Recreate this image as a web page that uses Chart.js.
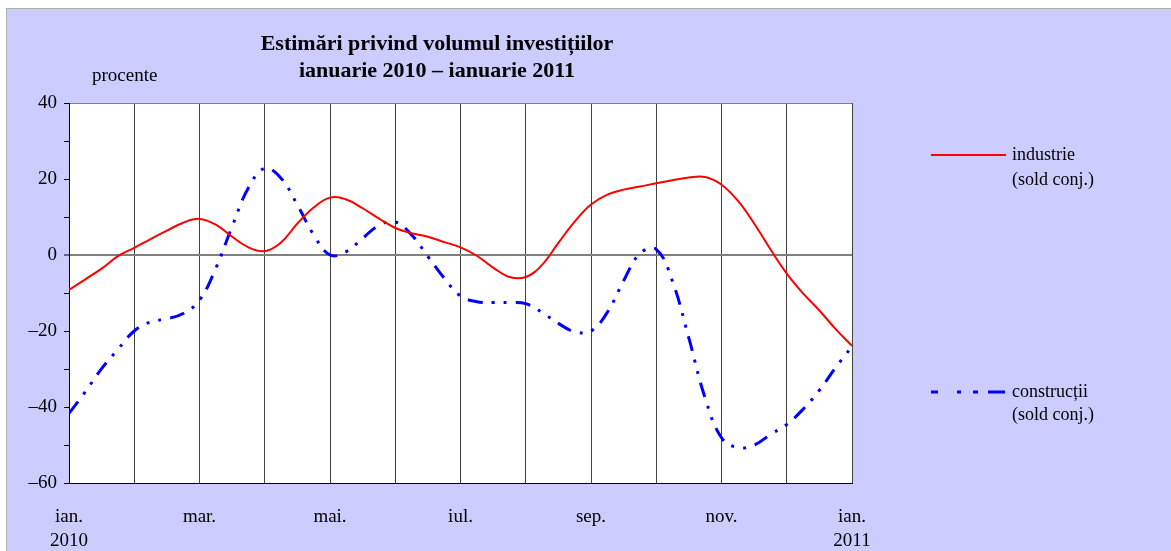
<!DOCTYPE html>
<html>
<head>
<meta charset="utf-8">
<script src="https://cdn.jsdelivr.net/npm/chart.js@4"></script>
<style>
  body { margin: 0; background: #fff; }
  #wrap { width: 1171px; height: 551px; }
</style>
</head>
<body>
<div id="wrap"><canvas id="investChart"></canvas></div>
<script>
// values, one every quarter month (ian. 2010 - ian. 2011)
const industrie = [-9.2, -6.4, -3.6, -0.3, 1.9, 4.2, 6.4, 8.5, 9.5, 8.0, 4.8, 2.0, 1.0,
  3.3, 8.3, 12.5, 15.1, 14.6, 12.3, 9.6, 7.1, 5.7, 4.8, 3.4, 2.0,
  -0.2, -3.3, -5.8, -5.8, -2.6, 3.2, 8.8, 13.3, 15.9, 17.2, 18.0, 18.9,
  19.7, 20.4, 20.5, 18.5, 14.3, 8.3, 1.5, -4.9, -10.1, -14.6, -19.5, -23.9];
const constructii = [-41.7, -36.0, -29.9, -24.8, -20.0, -17.6, -16.8, -15.4, -11.9, -3.5, 7.5, 17.7, 22.8,
  20.2, 13.2, 5.3, 0.0, 0.9, 4.4, 7.8, 8.7, 5.3, -0.4, -6.1, -10.8,
  -12.3, -12.5, -12.5, -12.8, -15.1, -18.0, -20.2, -20.0, -15.1, -6.8, 0.4, 1.5,
  -7.0, -21.9, -37.7, -48.1, -50.7, -50.0, -47.2, -44.6, -40.6, -35.6, -29.6, -24.1];
const luni = ['ian.', '', 'mar.', '', 'mai.', '', 'iul.', '', 'sep.', '', 'nov.', '', 'ian.'];
const ani = ['2010', '', '', '', '', '', '', '', '', '', '', '', '2011'];
const yTicks = [40, 20, 0, -20, -40, -60];

const serif = "'Liberation Serif', 'Times New Roman', serif";
const lavender = 'rgb(204,204,255)';

function puncte(vals) {
  return vals.map((v, i) => ({ x: i / 4, y: v }));
}

const background = {
  id: 'background',
  beforeDraw(chart) {
    const c = chart.ctx, a = chart.chartArea;
    c.save();
    c.fillStyle = '#fff';
    c.fillRect(0, 0, chart.width, chart.height);
    c.fillStyle = lavender;
    c.fillRect(7, 9, chart.width - 7, chart.height - 9);
    c.strokeStyle = '#b0b0b0';
    c.lineWidth = 1;
    c.strokeRect(6.5, 8.5, chart.width, chart.height);
    c.fillStyle = '#fff';
    c.fillRect(a.left, a.top, a.right - a.left, a.bottom - a.top);
    c.restore();
  }
};

const texts = {
  id: 'texts',
  afterDraw(chart) {
    const c = chart.ctx;
    c.save();
    c.fillStyle = '#000';
    c.textBaseline = 'middle';
    c.textAlign = 'center';
    c.font = 'bold 22px ' + serif;
    c.fillText('Estimări privind volumul investițiilor', 437, 44);
    c.fillText('ianuarie 2010 – ianuarie 2011', 437, 71);
    c.textAlign = 'left';
    c.font = '19px ' + serif;
    c.fillText('procente', 92, 76);

    // legend
    const rows = [[155, 180], [392, 415]];
    const legendDash = [[], [17, 19, 4, 12, 5, 10]];
    chart.data.datasets.forEach((ds, i) => {
      const y = rows[i][0];
      c.beginPath();
      c.strokeStyle = ds.borderColor;
      c.lineWidth = ds.borderWidth;
      c.setLineDash(legendDash[i]);
      c.lineDashOffset = i ? 10 : 0;
      c.moveTo(931, y);
      c.lineTo(1006, y);
      c.stroke();
      c.setLineDash([]);
      c.font = '18px ' + serif;
      c.fillStyle = '#000';
      c.fillText(ds.label, 1012, y);
      c.fillText('(sold conj.)', 1012, rows[i][1]);
    });
    c.restore();
  }
};

const ctx = document.getElementById('investChart').getContext('2d');
new Chart(ctx, {
  type: 'line',
  data: {
    datasets: [{
      label: 'industrie',
      data: puncte(industrie),
      borderColor: 'rgb(255,0,0)',
      borderWidth: 2,
      pointRadius: 0,
      tension: 0.4
    }, {
      label: 'construcții',
      data: puncte(constructii),
      borderColor: 'rgb(0,0,255)',
      borderWidth: 3,
      borderDash: [15, 9, 3, 9, 3, 9],
      pointRadius: 0,
      tension: 0.4
    }]
  },
  options: {
    responsive: true,
    maintainAspectRatio: false,
    animation: false,
    layout: { padding: { top: 103, right: 319, left: 0, bottom: 0 } },
    plugins: {
      legend: { display: false },
      tooltip: { enabled: false }
    },
    scales: {
      x: {
        type: 'linear',
        min: 0,
        max: 12,
        afterFit(scale) { scale.height = 68; },
        border: { color: '#000', width: 1 },
        grid: {
          color: '#404040',
          lineWidth: 1,
          drawTicks: false
        },
        ticks: {
          stepSize: 1,
          padding: 22,
          maxRotation: 0,
          autoSkip: false,
          color: '#000',
          font: { family: serif, size: 19, lineHeight: 1.25 },
          callback: v => ani[v] ? [luni[v], ani[v]] : luni[v]
        }
      },
      y: {
        min: -60,
        max: 40,
        afterFit(scale) { scale.width = 69; },
        border: { color: '#000', width: 1 },
        grid: {
          color: c => (c.tick.value === 0 || c.tick.value === 40) ? '#808080' : 'rgba(0,0,0,0)',
          lineWidth: c => c.tick.value === 0 ? 2 : 1,
          tickColor: '#000',
          tickWidth: 1,
          tickLength: 5
        },
        ticks: {
          stepSize: 5,
          padding: 7,
          color: '#000',
          font: { family: serif, size: 19 },
          callback: v => yTicks.includes(v) ? String(v).replace('-', '–') : ''
        }
      }
    }
  },
  plugins: [background, texts]
});
</script>
</body>
</html>
